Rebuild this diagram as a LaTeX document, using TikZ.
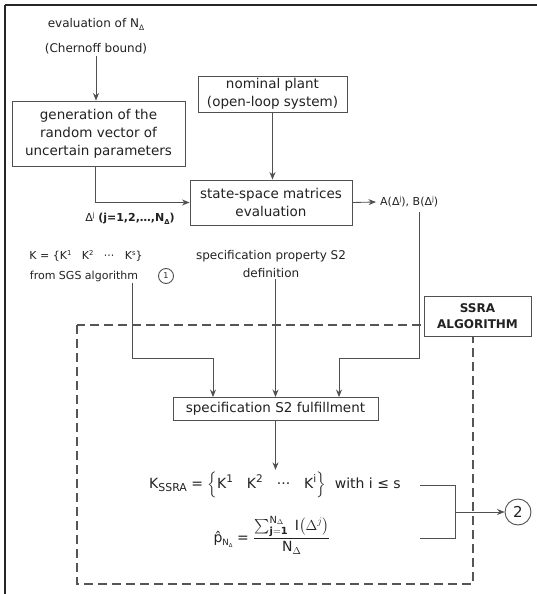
\documentclass[tikz,border=0pt]{standalone}
\usepackage{fontspec}
\setmainfont{DejaVu Sans}
\usepackage{amsmath}
\usepackage{graphicx}
\usetikzlibrary{arrows.meta,calc}
\definecolor{boxc}{HTML}{505050}
\definecolor{linec}{HTML}{505050}
\definecolor{txtc}{HTML}{222222}
\definecolor{dashc}{HTML}{555555}
\newcommand\mysb[1]{\raisebox{-0.45ex}{\scalebox{0.62}{#1}}}
\newcommand\mysbb[1]{\raisebox{-0.4ex}{\scalebox{0.78}{#1}}}
\newcommand\mysp[1]{\raisebox{0.7ex}{\scalebox{0.62}{#1}}}
\newcommand\myspp[1]{\raisebox{0.75ex}{\scalebox{0.75}{#1}}}
\begin{document}
\begin{tikzpicture}[x=1pt,y=-1pt,
  box/.style={draw=boxc, line width=0.95pt, inner sep=0pt, align=center, text=txtc,
    font=\fontsize{13.5}{18}\selectfont},
  lbl/.style={align=center, text=txtc, inner sep=1pt, font=\fontsize{12}{18}\selectfont},
  small/.style={align=center, text=txtc, inner sep=1pt, font=\fontsize{11}{15}\selectfont},
  conn/.style={draw=linec, line width=0.85pt},
  arr/.style={conn, -{Stealth[length=7.5pt,width=6pt]}},
  frame/.style={draw=black!85, line width=1.6pt},
  dashbox/.style={draw=dashc, line width=1.4pt, dash pattern=on 9pt off 5pt},
  ring/.style={circle, draw=boxc, line width=0.9pt, inner sep=0pt, text=txtc}
]
\useasboundingbox (0,0) rectangle (537,594);
\fill[white] (0,0) rectangle (537,594);
% outer frame
\draw[frame] (5,5) -- (537,5);
\draw[frame] (5,5) -- (5,594);

% dashed SSRA region
\draw[dashbox] (77,325) rectangle (473,584);

% top nodes
\node[lbl] (evN) at (96,24) {evaluation of N\mysb{Δ}};
\node[lbl] (chern) at (96,49) {(Chernoff bound)};
\node[box, minimum width=173pt, minimum height=65pt] (gen) at (98.5,133.5)
  {generation of the\\random vector of\\uncertain parameters};
\node[box, minimum width=149pt, minimum height=36pt] (nom) at (272.5,94)
  {nominal plant\\(open-loop system)};
\node[box, minimum width=162pt, minimum height=45pt] (ss) at (271,202.5)
  {state-space matrices\\evaluation};
\node[small] (dlab) at (130,218) {Δ\mysp{j} \textbf{(j=1,2,…,N\mysb{Δ})}};
\node[small, anchor=west, inner sep=4pt] (ab) at (376,202) {A(Δ\mysp{j}), B(Δ\mysp{j})};

% middle labels
\node[small] (kset) at (86,256) {K = \{K\mysp{1}\ \ \ K\mysp{2}\ \ \ ···\ \ \ K\mysp{s}\}};
\node[small] (sgs) at (84,276) {from SGS algorithm};
\node[ring, minimum size=15pt, font=\fontsize{8}{8}\selectfont] (c1) at (166,276) {1};
\node[lbl, font=\fontsize{12}{18}\selectfont] (spec) at (271,264) {specification property S2\\definition};

\node[draw=boxc, line width=0.95pt, fill=white, minimum width=107pt, minimum height=40pt,
  inner sep=0pt, align=center, text=txtc, font=\bfseries\fontsize{12}{16}\selectfont]
  (ssra) at (477.5,316) {SSRA\\ALGORITHM};

\node[box, minimum width=205pt, minimum height=23pt] (fu) at (275.5,409)
  {specification S2 fulfillment};

% bottom texts
\node[text=txtc, font=\fontsize{14}{16}\selectfont, inner sep=2pt] (kssra) at (275,485)
  {K\mysbb{SSRA} = $\Big\{$K\myspp{1}\quad K\myspp{2}\quad ···\quad K\myspp{i}$\Big\}$\ \ with i ≤ s};
\node[text=txtc, font=\fontsize{14}{16}\selectfont, inner sep=2pt] (ph) at (272,535)
  {p̂\mysb{N\mysb{Δ}}\ = $\dfrac{\sum_{\mathbf{j=1}}^{\text{N}_\Delta}\ \mathrm{I}\bigl(\Delta^{j}\bigr)}{\text{N}_\Delta}$};
\node[ring, minimum size=26pt, font=\fontsize{15}{15}\selectfont] (c2) at (518,512) {2};

% connectors
\coordinate (lj) at (132,358);
\coordinate (rj) at (419,358);
\coordinate (bt) at (420,485);
\coordinate (bb) at (420,538);
\coordinate (bj) at (455,512);

\draw[arr] (chern.south) -- (chern.south |- gen.north);
\draw[arr] (nom.south) -- (nom.south |- ss.north);
\draw[arr] ([xshift=-3pt]gen.south) |- (ss.west);
\draw[arr] (ss.east) -- (ab.west);
\draw[arr] (ab.south -| rj) -- (rj) -| ([xshift=63.5pt]fu.north);
\draw[arr] (sgs.south -| lj) -- (lj) -| ([xshift=-62.5pt]fu.north);
\draw[arr] (spec.south -| fu.north) -- (fu.north);
\draw[arr] (fu.south) -- (fu.south |- kssra.north);
\draw[conn] (bt) -| (bj);
\draw[conn] (bb) -| (bj);
\draw[arr] (bj) -- (c2.west);
\end{tikzpicture}
\end{document}
